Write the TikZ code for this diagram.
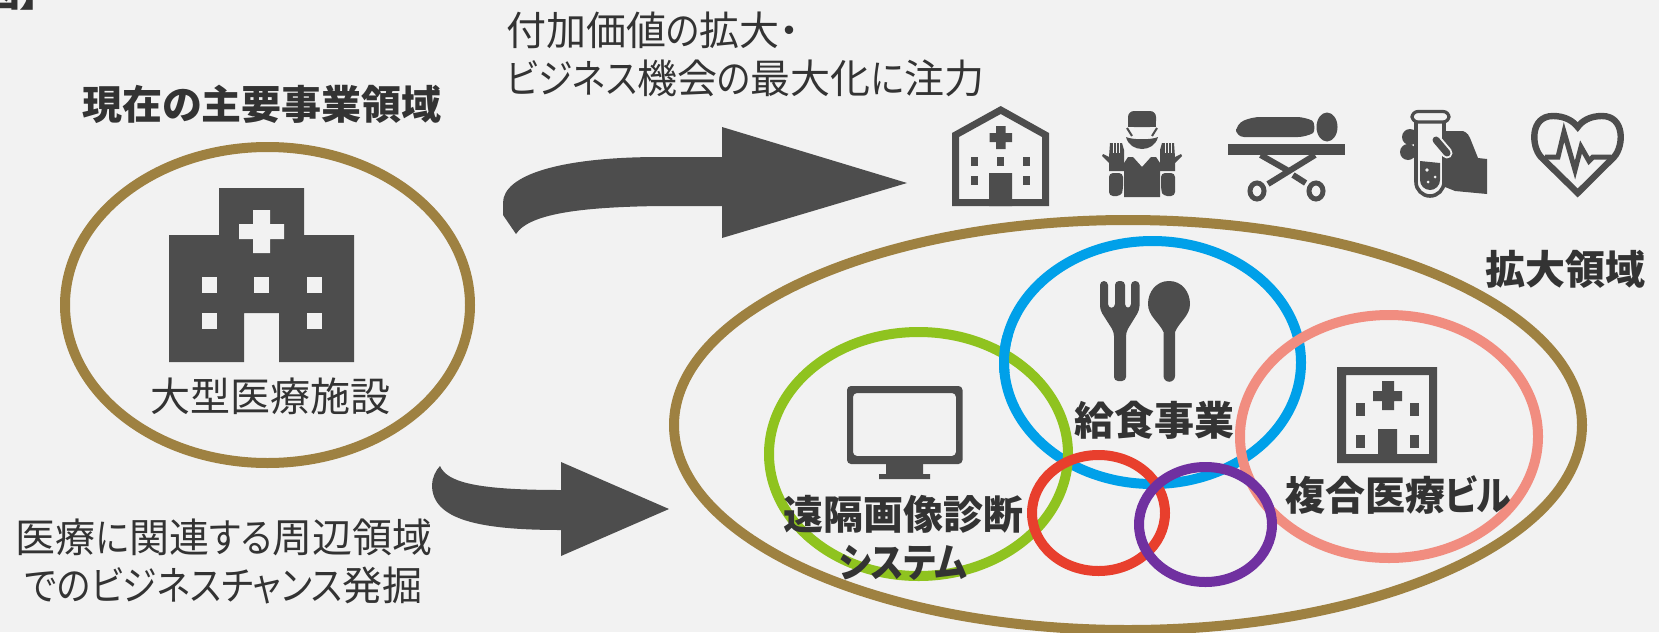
\documentclass[tikz,border=0pt]{standalone}
\usepackage{fontspec}
\setmainfont{Noto Sans CJK JP}[RawFeature={+palt}]
\newfontfamily\kanafont{Noto Sans CJK JP}[RawFeature={+palt},FakeStretch=0.87]
\newcommand{\kn}[1]{{\kanafont #1}}
\usepackage{tikz}
\usetikzlibrary{shapes.geometric}
\definecolor{paper}{HTML}{F2F2F2}
\definecolor{ink}{HTML}{333333}
\definecolor{icongrey}{HTML}{4D4D4D}
\definecolor{gold}{HTML}{9E8141}
\definecolor{mealblue}{HTML}{00A0E9}
\definecolor{remotegreen}{HTML}{8FC31F}
\definecolor{salmon}{HTML}{F18D80}
\definecolor{ringred}{HTML}{E83F2D}
\definecolor{ringpurple}{HTML}{7030A0}
\tikzset{
  ring/.style={ellipse,draw,line width=5pt,inner sep=0pt},
  heading/.style={font=\fontsize{20}{24}\selectfont\bfseries,text=ink,inner sep=0pt},
  plain/.style={font=\fontsize{20}{24}\selectfont,text=ink,inner sep=0pt},
  icon/.style={fill=icongrey,draw=none},
  iconline/.style={draw=icongrey,fill=none}
}

\begin{document}
\begin{tikzpicture}[x=0.5pt,y=-0.5pt]
\useasboundingbox (0,0) rectangle (1659,632);
\fill[paper] (0,0) rectangle (1659,632);

\node (Cut) [heading,anchor=base west] at (-20,6) {図】};
\node (Current) [ring,draw=gold,minimum width=202.5pt,minimum height=158pt] at (267.5,305) {};
\node (Expand) [ring,draw=gold,minimum width=454pt,minimum height=205pt] at (1128,425) {};
\node (Meal) [ring,draw=mealblue,minimum width=148.5pt,minimum height=121.5pt] at (1152.5,362.5) {};
\node (Remote) [ring,draw=remotegreen,minimum width=149.5pt,minimum height=122pt] at (918.5,454) {};
\begin{scope}
\clip (985,335) rectangle (1025,372);
\node (MealTop) [ring,draw=mealblue,minimum width=148.5pt,minimum height=121.5pt] at (1152.5,362.5) {};
\end{scope}
\node (Complex) [ring,draw=salmon,minimum width=149pt,minimum height=121.5pt] at (1389,436.5) {};
\node (RedRing) [ring,draw=ringred,minimum width=66.5pt,minimum height=58pt] at (1098.5,513) {};
\node (PurpleRing) [ring,draw=ringpurple,minimum width=66.5pt,minimum height=57.5pt] at (1205.5,524.5) {};

\fill[icon] (722,157) -- (722,127) -- (907,183) -- (722,238) -- (722,206) -- (660,206)
  .. controls (590,207) and (530,212) .. (516,234) -- (503,215) -- (503,203)
  .. controls (503,175) and (560,157) .. (660,157) -- cycle;
\fill[icon] (561,490) -- (561,462) -- (669,509) -- (561,556) -- (561,530)
  .. controls (480,530) and (432,520) .. (432,485)
  .. controls (432,478) and (436,470) .. (440,466)
  .. controls (447,482) and (475,490) .. (561,490) -- cycle;

\fill[icon] (169,362) -- (169,235) -- (219,235) -- (219,188) -- (304,188) -- (304,235)
  -- (354,235) -- (354,362) -- (279,362) -- (279,313) -- (244,313) -- (244,362) -- cycle;
\fill[paper] (253,210) rectangle (270,253) (239,224) rectangle (284,239);
\foreach \wx/\wy in {202/277,254/277,307/277,202/313,307/313}
  \fill[paper] (\wx,\wy) rectangle ++(15,16);

\fill[icon,even odd rule] (952,206) -- (952,133) -- (1000.7,106) -- (1049,133) -- (1049,206) -- cycle
  (959,199) -- (959,137) -- (1000.7,114) -- (1042,137) -- (1042,199) -- cycle;
\fill[icon] (996,126) rectangle (1005.5,149) (989.5,133) rectangle (1012,142) (989,173) rectangle (1012,206);
\foreach \wx/\wy in {971/157,997/157,1023/157,971/176,1023/176}
  \fill[icon] (\wx,\wy) rectangle ++(7,9);

\fill[icon,rounded corners=3pt] (1128,127) -- (1128,111) -- (1156,111) -- (1156,127) -- cycle;
\fill[icon] (1128,127) rectangle (1156,122);
\draw[iconline,line width=1pt] (1127,128) -- (1132,136) (1157,128) -- (1152,136);
\fill[icon] (1126,137) .. controls (1132,140) and (1152,140) .. (1158,137)
  .. controls (1156,145) and (1149,149) .. (1142,149) .. controls (1135,149) and (1128,145) .. (1126,137) -- cycle;
\fill[icon] (1124,197) -- (1124,163) -- (1128,157) -- (1133,157) -- (1142,167) -- (1151,157)
  -- (1156,157) -- (1160,163) -- (1160,197) -- cycle;
\foreach \side in {1,-1} {
  \begin{scope}[shift={(1142,0)},xscale=\side]
  \fill[icon,rounded corners=2pt] (-33,173) -- (-33,196) -- (-21,196) -- (-19,190) -- (-19,173) -- cycle;
  \fill[icon] (-33,171) -- (-33,163) -- (-40,156) -- (-39,154) -- (-33,157) -- (-32,143) -- (-20,143) -- (-18,150) -- (-18,171) -- cycle;
  \draw[paper,line width=0.4pt] (-29,143) -- (-29,153) (-26,143) -- (-26,153) (-23,143) -- (-23,153);
  \end{scope}
}

\fill[icon,rounded corners=4pt] (1236,124) -- (1252,117) -- (1305,117) .. controls (1315,122) and (1315,132) .. (1306,137) -- (1236,137) -- cycle;
\fill[icon] (1327,127) ellipse [x radius=10.5,y radius=14.5];
\fill[icon] (1228,144) rectangle (1345,155);
\draw[iconline,line width=3pt] (1260.6,155) -- (1287,170) (1293,175) -- (1305.6,183) (1315,155) -- (1268,184);
\draw[iconline,line width=2.5pt] (1257,191) ellipse [x radius=7,y radius=8] (1316,191) ellipse [x radius=7,y radius=8];

\fill[icon] (1410,137) circle [radius=8] (1408,152) circle [radius=8];
\fill[icon] (1445,131) -- (1463,131) .. controls (1468,133) and (1469,136) .. (1470,138)
  -- (1478,158) -- (1487,159) -- (1487,194) -- (1455,191) -- (1445,187) -- cycle;
\fill[paper] (1415,122) rectangle (1445,180) (1430,182) circle [radius=15];
\draw[iconline,line width=1.6pt,rounded corners=3pt] (1412,111.5) rectangle (1449,122);
\draw[iconline,line width=1.8pt] (1416,122) -- (1416,182) arc [start angle=180,end angle=0,radius=14] -- (1444,122);
\fill[icon] (1420,161) -- (1440,163) -- (1440,180) arc [start angle=0,end angle=180,radius=10] -- cycle;
\fill[paper] (1427,170) circle [radius=1.8] (1435,177) circle [radius=1.5] (1428,182) circle [radius=1.5];
\draw[paper,line width=5.5pt,line cap=round] (1436,140) -- (1447,153);
\draw[iconline,line width=3.5pt,line cap=round] (1436,140) -- (1447,153);

\draw[iconline,line width=3.2pt,miter limit=8] (1577.7,193) -- (1541,157)
  .. controls (1531,146) and (1530,116) .. (1553,116) .. controls (1565,116) and (1573,121) .. (1577.7,127)
  .. controls (1582,121) and (1590,116) .. (1602,116) .. controls (1625,116) and (1624,146) .. (1614,157) -- cycle;
\draw[iconline,line width=2.5pt,miter limit=8] (1545,157) -- (1558,157) -- (1564,132) -- (1575,170) -- (1581,147) -- (1589,161) -- (1593,157) -- (1611,157);

\fill[icon,rounded corners=2pt] (1100,281) -- (1108,281) -- (1108,308) -- (1115,308) -- (1115,281) -- (1125,281)
  -- (1125,308) -- (1131,308) -- (1131,281) -- (1139.5,281) -- (1139.5,310) -- (1126,332) -- (1126,381)
  -- (1114,381) -- (1114,332) -- (1100,310) -- cycle;
\fill[icon] (1169,281) .. controls (1182,281) and (1190,292) .. (1190,304) .. controls (1190,316) and (1179,322) .. (1175,332)
  -- (1175,376) arc [start angle=0,end angle=180,radius=5.75] -- (1163.5,332)
  .. controls (1159,322) and (1148,316) .. (1148,304) .. controls (1148,292) and (1156,281) .. (1169,281) -- cycle;

\fill[icon,rounded corners=2pt,even odd rule] (847,386) rectangle (962.5,464) (853,393) rectangle (956,456);
\fill[icon] (886,464) rectangle (923,474) (879,474) rectangle (930,479);

\fill[icon,even odd rule] (1337,367) rectangle (1437,463) (1346,375) rectangle (1429,454);
\fill[icon] (1382,381) rectangle (1394,410) (1373,391) rectangle (1402,401) (1378,429) rectangle (1397,454);
\foreach \wx/\wy in {1356/403,1410/403,1356/435,1410/435}
  \fill[icon] (\wx,\wy) rectangle ++(8.5,13);

\node (CurrentTitle) [heading] at (262,104.5) {現在の主要事業領域};
\node (CurrentName) [plain] at (270,396) {大型医療施設};
\node (TopNote) [plain,align=left,anchor=west] at (506,54) {付加価値\kn{の}拡大・\\\kn{ビジネス}機会\kn{の}最大化\kn{に}注力};
\node (LowNote) [plain,align=center] at (224,561) {医療\kn{に}関連\kn{する}周辺領域\\\kn{でのビジネスチャンス}発掘};
\node (ExpandName) [heading] at (1565,269) {拡大領域};
\node (MealName) [heading] at (1154,420) {給食事業};
\node (RemoteName) [heading,align=center] at (903,538) {遠隔画像診断\\\kn{システム}};
\node (ComplexName) [heading] at (1398,495) {複合医療\kn{ビル}};
\end{tikzpicture}
\end{document}
